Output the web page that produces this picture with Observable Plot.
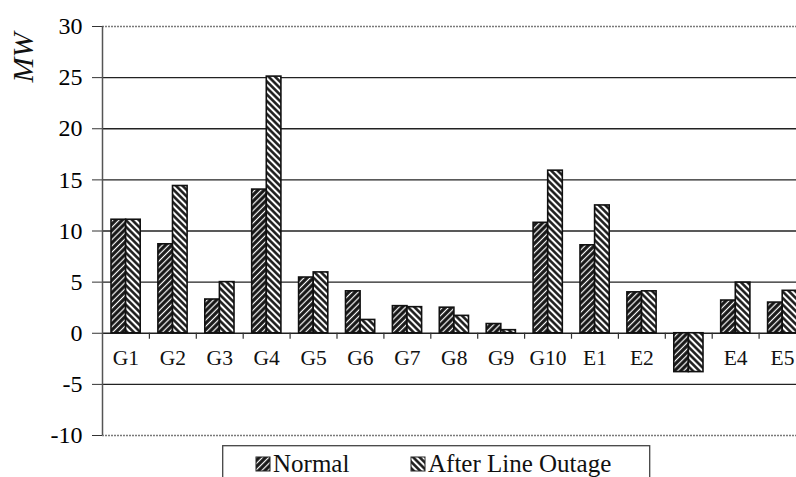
<!DOCTYPE html>
<html>
<head>
<meta charset="utf-8">
<script src="https://cdn.jsdelivr.net/npm/d3@7"></script>
<script src="https://cdn.jsdelivr.net/npm/@observablehq/plot@0.6"></script>
<style>
  body { margin: 0; background: #fff; }
  #wrap { position: relative; width: 796px; height: 477px; overflow: hidden; font-family: "Liberation Serif", "DejaVu Serif", serif; }
  #chart svg { display: block; font-family: "Liberation Serif", "DejaVu Serif", serif; }
  #chart svg text { font-family: "Liberation Serif", "DejaVu Serif", serif; }
  #legend { position: absolute; left: 222px; top: 445px; }
  #legend text { font-family: "Liberation Serif", "DejaVu Serif", serif; }
</style>
</head>
<body>
<svg width="0" height="0" style="position:absolute">
  <defs>
    <pattern id="hatchNormal" patternUnits="userSpaceOnUse" width="4.4" height="4.4" patternTransform="rotate(45)">
      <rect width="4.4" height="4.4" fill="#161616"></rect>
      <line x1="2.2" y1="0" x2="2.2" y2="4.4" stroke="#fff" stroke-width="1.2"></line>
    </pattern>
    <pattern id="hatchAfter" patternUnits="userSpaceOnUse" width="4.6" height="4.6" patternTransform="rotate(-45)">
      <rect width="4.6" height="4.6" fill="#fff"></rect>
      <line x1="2.3" y1="0" x2="2.3" y2="4.6" stroke="#161616" stroke-width="2.5"></line>
    </pattern>
  </defs>
</svg>
<div id="wrap">
  <div id="chart"></div>
  <div id="legend"></div>
</div>
<script>
// ---- data ----
const categories = ["G1","G2","G3","G4","G5","G6","G7","G8","G9","G10","E1","E2","E3","E4","E5"];
const normal      = [11.1, 8.7, 3.3, 14.05, 5.45, 4.1, 2.65, 2.5, 0.9, 10.8, 8.6, 4.0, -3.8, 3.2, 3.0];
const afterOutage = [11.1, 14.4, 5.0, 25.1, 5.95, 1.3, 2.55, 1.7, 0.3, 15.9, 12.5, 4.1, -3.8, 4.95, 4.15];
const seriesNames = ["Normal", "After Line Outage"];
const yTicks = [-10, -5, 0, 5, 10, 15, 20, 25, 30];
const yLabel = "MW";

const rows = categories.map((c, i) => ({cat: c, normal: normal[i], after: afterOutage[i]}));

const W = 796, H = 477;
const x0 = 102, step = 46.9;
const barW = 14.6, padL = 9;
const serif = "'Liberation Serif', 'DejaVu Serif', serif";

const chart = Plot.plot({
  width: W,
  height: H,
  marginLeft: x0,
  marginRight: 0,
  marginTop: 26,
  marginBottom: 42,
  style: {fontFamily: serif, background: "transparent", color: "#000"},
  x: {domain: categories, range: [x0, x0 + step * categories.length], padding: 0, round: false, axis: null},
  y: {domain: [yTicks[0], yTicks[yTicks.length - 1]]},
  marks: [
    Plot.gridY(yTicks.slice(1, -1), {stroke: "#222", strokeOpacity: 1, strokeWidth: 1.4}),
    Plot.gridY([yTicks[0], yTicks[yTicks.length - 1]], {stroke: "#7a7a7a", strokeOpacity: 1, strokeWidth: 1.6, strokeDasharray: "2,1"}),
    Plot.axisY(yTicks, {tickSize: 10, tickPadding: 10, fontSize: 24, tickFormat: d => String(d), label: null, stroke: "#333"}),
    Plot.ruleX([categories[0]], {x: d => d, dx: -step / 2, y1: yTicks[0], y2: yTicks[yTicks.length - 1], stroke: "#555", strokeWidth: 1.5}),
    Plot.ruleX(categories, {x: d => d, dx: step / 2, y1: 0, y2: 0, insetTop: 0, insetBottom: -6, stroke: "#333", strokeWidth: 1.2}),
    Plot.text(categories, {x: d => d, y: 0, dy: 25, text: d => d, fontSize: 21.5, fill: "#111"}),
    Plot.barY(rows, {x: "cat", y: "normal", fill: "url(#hatchNormal)", stroke: "#111", strokeWidth: 1.6,
      insetLeft: padL, insetRight: step - padL - barW}),
    Plot.barY(rows, {x: "cat", y: "after", fill: "url(#hatchAfter)", stroke: "#111", strokeWidth: 1.6,
      insetLeft: padL + barW, insetRight: step - padL - 2 * barW}),
    Plot.text([yLabel], {text: d => d, frameAnchor: "top-left", textAnchor: "middle", lineAnchor: "middle",
      dx: -79, dy: 31, rotate: -90, fontSize: 30, fontStyle: "italic", fill: "#111"})
  ]
});
document.getElementById("chart").appendChild(chart);

// ---- legend (below the plot frame) ----
const ns = "http://www.w3.org/2000/svg";
const lg = document.createElementNS(ns, "svg");
lg.setAttribute("width", 430);
lg.setAttribute("height", 40);
lg.setAttribute("font-family", serif);
const box = document.createElementNS(ns, "rect");
box.setAttribute("x", 0.7); box.setAttribute("y", 0.7);
box.setAttribute("width", 427); box.setAttribute("height", 60);
box.setAttribute("fill", "none"); box.setAttribute("stroke", "#444"); box.setAttribute("stroke-width", 1.3);
lg.appendChild(box);
const fills = ["url(#hatchNormal)", "url(#hatchAfter)"];
const swX = [34, 189];
seriesNames.forEach((name, i) => {
  const r = document.createElementNS(ns, "rect");
  r.setAttribute("x", swX[i]); r.setAttribute("y", 12);
  r.setAttribute("width", 14); r.setAttribute("height", 14);
  r.setAttribute("fill", fills[i]); r.setAttribute("stroke", "#222"); r.setAttribute("stroke-width", 1);
  lg.appendChild(r);
  const t = document.createElementNS(ns, "text");
  t.setAttribute("x", swX[i] + 17); t.setAttribute("y", 26.5);
  t.setAttribute("font-size", 25); t.setAttribute("fill", "#111");
  t.textContent = name;
  lg.appendChild(t);
});
document.getElementById("legend").appendChild(lg);
</script>
</body>
</html>
